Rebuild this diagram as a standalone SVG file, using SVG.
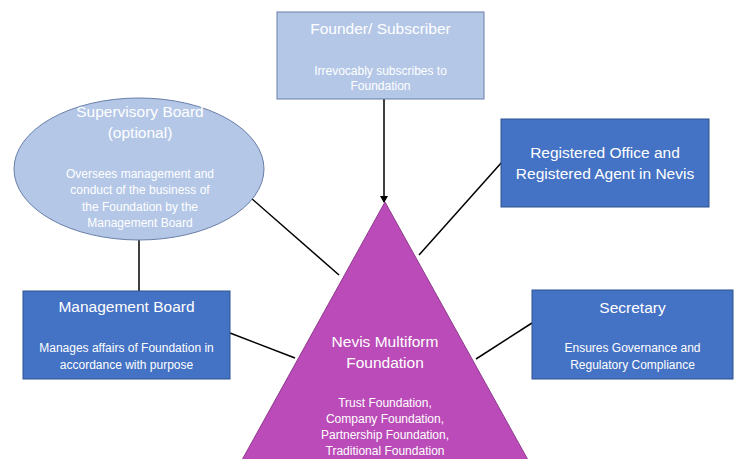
<svg xmlns="http://www.w3.org/2000/svg" width="735" height="459" viewBox="0 0 735 459">
<defs>
<style>
.t{font-family:"Liberation Sans",Arial,sans-serif;fill:#fff;text-anchor:middle}
.h{font-size:15.5px}
.s{font-size:12px}
.dark{fill:#4472C4;stroke:#2F528F;stroke-width:1}
.light{fill:#B4C7E7;stroke:#6A7FA8;stroke-width:1}
.c{stroke:#000;stroke-width:1.5;fill:none}
</style>
<marker id="ah" markerWidth="8" markerHeight="8" refX="6" refY="4" orient="auto" markerUnits="userSpaceOnUse">
<path d="M0,0 L7,4 L0,8 Z" fill="#000"/>
</marker>
</defs>
<rect width="735" height="459" fill="#fff"/>
<g id="connectors">
<line class="c" x1="384" y1="99" x2="384" y2="202" marker-end="url(#ah)"/>
<line class="c" x1="251" y1="198" x2="339" y2="275"/>
<line class="c" x1="139" y1="240" x2="139" y2="291"/>
<line class="c" x1="230" y1="333" x2="295" y2="358"/>
<line class="c" x1="502" y1="162" x2="419" y2="255"/>
<line class="c" x1="532" y1="323" x2="476" y2="359"/>
</g>
<g id="foundation">
<polygon points="385,202 232,478 538,478" fill="#BA4BB8" stroke="#8E3A8C" stroke-width="1"/>
<text class="t h" x="385" y="347">Nevis Multiform</text>
<text class="t h" x="385" y="368">Foundation</text>
<text class="t s" x="385" y="407">Trust Foundation,</text>
<text class="t s" x="385" y="423">Company Foundation,</text>
<text class="t s" x="385" y="439">Partnership Foundation,</text>
<text class="t s" x="385" y="455">Traditional Foundation</text>
</g>
<g id="founder">
<rect class="light" x="277" y="12" width="207" height="87"/>
<text class="t h" x="380.5" y="34">Founder/ Subscriber</text>
<text class="t s" x="380.5" y="75">Irrevocably subscribes to</text>
<text class="t s" x="380.5" y="90">Foundation</text>
</g>
<g id="supervisory">
<ellipse class="light" cx="139" cy="169" rx="125" ry="71"/>
<text class="t h" x="140" y="117">Supervisory Board</text>
<text class="t h" x="140" y="138">(optional)</text>
<text class="t s" x="140" y="178">Oversees management and</text>
<text class="t s" x="140" y="194">conduct of the business of</text>
<text class="t s" x="140" y="211">the Foundation by the</text>
<text class="t s" x="140" y="227">Management Board</text>
</g>
<g id="registered">
<rect class="dark" x="501" y="119" width="208" height="88"/>
<text class="t h" x="605" y="158">Registered Office and</text>
<text class="t h" x="605" y="179">Registered Agent in Nevis</text>
</g>
<g id="management">
<rect class="dark" x="23" y="291" width="207" height="88"/>
<text class="t h" x="126.5" y="312">Management Board</text>
<text class="t s" x="126.5" y="352">Manages affairs of Foundation in</text>
<text class="t s" x="126.5" y="369">accordance with purpose</text>
</g>
<g id="secretary">
<rect class="dark" x="532" y="290" width="201" height="89"/>
<text class="t h" x="632.5" y="313">Secretary</text>
<text class="t s" x="632.5" y="352">Ensures Governance and</text>
<text class="t s" x="632.5" y="369">Regulatory Compliance</text>
</g>
</svg>
